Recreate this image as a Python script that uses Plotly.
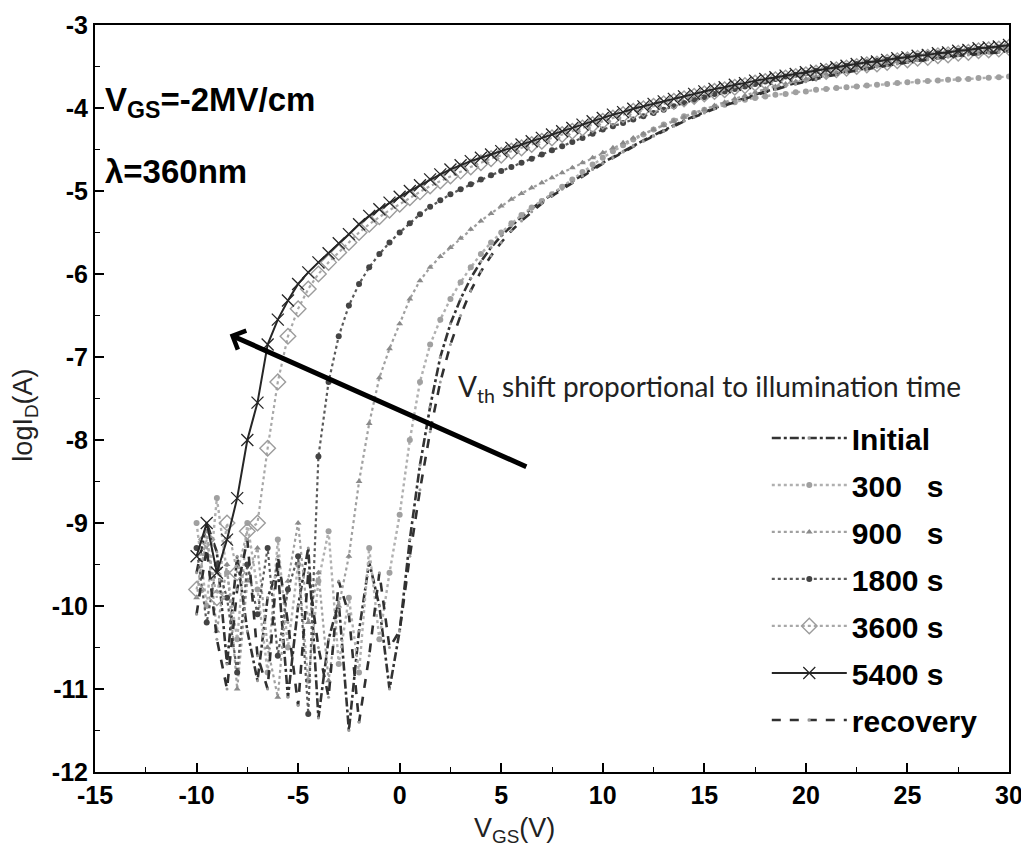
import plotly.graph_objects as go

VGS = [-10.0, -9.5, -9.0, -8.5, -8.0, -7.5, -7.0, -6.5, -6.0, -5.5,
       -5.0, -4.5, -4.0, -3.5, -3.0, -2.5, -2.0, -1.5, -1.0, -0.5,
       0.0, 0.5, 1.0, 1.5, 2.0, 2.5, 3.0, 3.5, 4.0, 4.5,
       5.0, 5.5, 6.0, 6.5, 7.0, 7.5, 8.0, 8.5, 9.0, 9.5,
       10.0, 10.5, 11.0, 11.5, 12.0, 12.5, 13.0, 13.5, 14.0, 14.5,
       15.0, 15.5, 16.0, 16.5, 17.0, 17.5, 18.0, 18.5, 19.0, 19.5,
       20.0, 20.5, 21.0, 21.5, 22.0, 22.5, 23.0, 23.5, 24.0, 24.5,
       25.0, 25.5, 26.0, 26.5, 27.0, 27.5, 28.0, 28.5, 29.0, 29.5,
       30.0]

initial = [-9.6, -9.0, -9.35, -10.7, -9.4, -10.3, -10.9, -9.9, -9.56, -11.1,
           -10.0, -9.3, -11.35, -10.4, -9.95, -11.5, -10.3, -9.47, -10.0, -11.0,
           -10.3, -9.2, -8.3, -7.6, -7.0, -6.6, -6.3, -6.05, -5.85, -5.68,
           -5.54, -5.42, -5.31, -5.21, -5.12, -5.04, -4.96, -4.88, -4.8, -4.73,
           -4.66, -4.59, -4.52, -4.45, -4.39, -4.33, -4.27, -4.21, -4.15, -4.1,
           -4.05, -4.0, -3.96, -3.92, -3.88, -3.84, -3.8, -3.77, -3.73, -3.7,
           -3.67, -3.64, -3.61, -3.59, -3.56, -3.54, -3.52, -3.5, -3.48, -3.46,
           -3.44, -3.42, -3.41, -3.39, -3.38, -3.36, -3.35, -3.34, -3.33, -3.32,
           -3.31]

s300 = [-9.0, -10.0, -8.7, -9.6, -10.4, -9.0, -9.8, -10.8, -9.2, -10.5,
        -9.5, -10.9, -9.7, -9.1, -10.7, -9.9, -10.8, -9.3, -10.4, -9.6,
        -8.9, -8.0, -7.3, -6.85, -6.55, -6.3, -6.1, -5.92, -5.76, -5.62,
        -5.5, -5.39, -5.29, -5.2, -5.12, -5.04, -4.95, -4.86, -4.77, -4.68,
        -4.6, -4.52, -4.45, -4.38, -4.32, -4.26, -4.2, -4.15, -4.1, -4.06,
        -4.02, -3.99, -3.96, -3.93, -3.9, -3.88, -3.86, -3.84, -3.83, -3.81,
        -3.8, -3.78, -3.77, -3.76, -3.75, -3.74, -3.73, -3.72, -3.71, -3.7,
        -3.69, -3.68, -3.675, -3.67, -3.66, -3.655, -3.65, -3.64, -3.635, -3.63,
        -3.62]

s900 = [-9.9, -9.1, -10.3, -9.5, -11.0, -9.7, -9.3, -10.5, -11.1, -9.7,
        -9.0, -10.2, -9.6, -10.9, -10.0, -9.4, -8.5, -7.8, -7.25, -6.9,
        -6.6, -6.3, -6.08, -5.92, -5.79, -5.68, -5.57, -5.46, -5.36, -5.27,
        -5.18, -5.1, -5.03, -4.96, -4.9, -4.84, -4.78, -4.72, -4.66, -4.6,
        -4.54, -4.48, -4.42, -4.36, -4.31, -4.26, -4.21, -4.16, -4.11, -4.06,
        -4.02, -3.97, -3.93, -3.89, -3.85, -3.81, -3.77, -3.74, -3.71, -3.68,
        -3.65, -3.62, -3.59, -3.57, -3.54, -3.52, -3.5, -3.48, -3.46, -3.44,
        -3.42, -3.4, -3.38, -3.37, -3.35, -3.34, -3.32, -3.31, -3.3, -3.29,
        -3.28]

s1800 = [-9.3, -10.2, -9.5, -9.9, -10.8, -9.5, -10.1, -9.3, -10.6, -9.8,
         -9.4, -11.3, -8.2, -7.3, -6.75, -6.38, -6.12, -5.92, -5.76, -5.62,
         -5.5, -5.39, -5.28, -5.19, -5.11, -5.04, -4.98, -4.92, -4.86, -4.81,
         -4.76, -4.71, -4.66, -4.61, -4.56, -4.51, -4.46, -4.41, -4.36, -4.31,
         -4.26, -4.22, -4.18, -4.14, -4.1, -4.06, -4.02, -3.98, -3.94, -3.9,
         -3.87, -3.83, -3.8, -3.77, -3.74, -3.71, -3.68, -3.65, -3.62, -3.6,
         -3.58, -3.55, -3.53, -3.51, -3.49, -3.47, -3.45, -3.43, -3.42, -3.4,
         -3.38, -3.37, -3.35, -3.34, -3.33, -3.31, -3.3, -3.29, -3.28, -3.27,
         -3.26]

s3600 = [-9.8, -9.2, -9.9, -9.0, -9.6, -9.1, -9.0, -8.1, -7.3, -6.75,
         -6.42, -6.18, -6.0, -5.86, -5.74, -5.62, -5.5, -5.4, -5.31, -5.23,
         -5.16, -5.08, -5.01, -4.94, -4.88, -4.82, -4.76, -4.71, -4.66, -4.61,
         -4.57, -4.52, -4.48, -4.44, -4.4, -4.36, -4.32, -4.28, -4.24, -4.2,
         -4.16, -4.12, -4.08, -4.04, -4.01, -3.98, -3.95, -3.92, -3.89, -3.86,
         -3.83, -3.8, -3.78, -3.75, -3.73, -3.7, -3.68, -3.66, -3.64, -3.62,
         -3.6, -3.58, -3.56, -3.54, -3.52, -3.5, -3.48, -3.47, -3.45, -3.43,
         -3.42, -3.4, -3.39, -3.37, -3.36, -3.34, -3.33, -3.31, -3.3, -3.29,
         -3.27]

s5400 = [-9.4, -9.0, -9.6, -9.2, -8.7, -8.0, -7.55, -6.85, -6.55, -6.32,
         -6.12, -5.98, -5.86, -5.75, -5.63, -5.52, -5.4, -5.3, -5.22, -5.14,
         -5.07, -5.0, -4.93, -4.86, -4.8, -4.74, -4.69, -4.64, -4.6, -4.56,
         -4.52, -4.48, -4.44, -4.4, -4.36, -4.32, -4.28, -4.24, -4.2, -4.16,
         -4.12, -4.08, -4.05, -4.01, -3.98, -3.95, -3.92, -3.89, -3.86, -3.83,
         -3.8, -3.77, -3.75, -3.72, -3.7, -3.67, -3.65, -3.63, -3.61, -3.59,
         -3.57, -3.55, -3.53, -3.51, -3.49, -3.47, -3.45, -3.44, -3.42, -3.4,
         -3.39, -3.37, -3.36, -3.34, -3.33, -3.31, -3.3, -3.28, -3.27, -3.26,
         -3.24]

recovery = [-10.1, -9.3, -10.4, -11.0, -9.8, -9.2, -10.6, -11.0, -9.4, -10.2,
            -11.2, -9.6, -10.5, -11.1, -9.7, -10.1, -11.4, -10.6, -9.6, -10.5,
            -10.3, -9.4, -8.6, -7.9, -7.3, -6.85, -6.5, -6.2, -5.97, -5.78,
            -5.62, -5.48, -5.36, -5.25, -5.15, -5.06, -4.98, -4.9, -4.82, -4.74,
            -4.67, -4.6, -4.53, -4.46, -4.4, -4.34, -4.28, -4.22, -4.16, -4.11,
            -4.06, -4.01, -3.97, -3.93, -3.89, -3.85, -3.81, -3.78, -3.74, -3.71,
            -3.68, -3.65, -3.62, -3.6, -3.57, -3.55, -3.53, -3.51, -3.49, -3.47,
            -3.45, -3.43, -3.42, -3.4, -3.39, -3.37, -3.36, -3.35, -3.34, -3.33,
            -3.32]

X_TICKS = [-15, -10, -5, 0, 5, 10, 15, 20, 25, 30]
X_TICK_TEXT = ["-15", "-10", "-5", "0", "5", "10", "15", "20", "25", "30"]
Y_TICKS = [-12, -11, -10, -9, -8, -7, -6, -5, -4, -3]
Y_TICK_TEXT = ["-12", "-11", "-10", "-9", "-8", "-7", "-6", "-5", "-4", "-3"]

NBSP = "\u00a0"
series_names = ["Initial", "300" + NBSP * 3 + "s", "900" + NBSP * 3 + "s",
                "1800 s", "3600 s", "5400 s", "recovery"]
series_values = [initial, s300, s900, s1800, s3600, s5400, recovery]

styles = [
    dict(line=dict(color="#333333", width=2.6, dash="dashdot"),
         marker=dict(symbol="circle", size=3, color="#9a9a9a")),
    dict(line=dict(color="#b0b0b0", width=2.4, dash="dot"),
         marker=dict(symbol="circle", size=6, color="#a0a0a0")),
    dict(line=dict(color="#a0a0a0", width=2.2, dash="dot"),
         marker=dict(symbol="triangle-up", size=6, color="#8a8a8a")),
    dict(line=dict(color="#5a5a5a", width=2.2, dash="dot"),
         marker=dict(symbol="circle", size=6, color="#444444")),
    dict(line=dict(color="#a8a8a8", width=2.2, dash="dot"),
         marker=dict(symbol="diamond-open", size=12, color="#9c9c9c",
                     line=dict(width=1.4, color="#9c9c9c"))),
    dict(line=dict(color="#262626", width=2, dash="solid"),
         marker=dict(symbol="x-thin-open", size=12, color="#262626",
                     line=dict(width=1.3, color="#262626"))),
    dict(line=dict(color="#303030", width=2.6, dash="dash"),
         marker=dict(symbol="circle", size=3, color="#9a9a9a")),
]

fig = go.Figure()
for i, (name, vals, st) in enumerate(zip(series_names, series_values, styles)):
    fig.add_trace(go.Scatter(x=VGS, y=vals, name=name, mode="lines+markers",
                             line=st["line"], marker=st["marker"],
                             legendgroup=f"g{i}"))

TICK_FONT = dict(family="Liberation Sans, Arial", size=25, color="black", weight="bold")

# page body has an 8px default margin: size/margins compensate so the plot
# area lands at the same screen position as the reference
fig.update_layout(
    width=1021, height=852,
    paper_bgcolor="white", plot_bgcolor="white",
    margin=dict(l=87, r=20, t=17, b=88),
    showlegend=True,
    legend=dict(x=0.735, y=0.482, xanchor="left", yanchor="top",
                bgcolor="rgba(0,0,0,0)", borderwidth=0,
                font=dict(family="Liberation Sans, Arial", size=30,
                          color="black", weight="bold"),
                itemwidth=75, tracegroupgap=5, traceorder="grouped"),
    xaxis=dict(range=[-15, 30], tickvals=X_TICKS, ticktext=X_TICK_TEXT, automargin=False,
               ticks="inside", ticklen=9, tickwidth=1.5, tickcolor="black",
               minor=dict(dtick=2.5, ticks="inside", ticklen=5, tickcolor="black", tickwidth=1.2),
               showline=True, linecolor="black", linewidth=2, mirror=True,
               showgrid=False, zeroline=False, tickfont=TICK_FONT),
    yaxis=dict(range=[-12, -3], tickvals=Y_TICKS, ticktext=Y_TICK_TEXT, automargin=False,
               ticks="inside", ticklen=9, tickwidth=1.5, tickcolor="black",
               minor=dict(dtick=0.5, ticks="inside", ticklen=5, tickcolor="black", tickwidth=1.2),
               showline=True, linecolor="black", linewidth=2, mirror=True,
               showgrid=False, zeroline=False, tickfont=TICK_FONT),
)

fig.add_annotation(x=-14.6, y=-3.93, xref="x", yref="y", xanchor="left", yanchor="middle",
                   text="V<sub>GS</sub>=-2MV/cm", showarrow=False,
                   font=dict(family="Liberation Sans, Arial", size=33, color="black", weight="bold"))
fig.add_annotation(x=-14.6, y=-4.77, xref="x", yref="y", xanchor="left", yanchor="middle",
                   text="λ=360nm", showarrow=False,
                   font=dict(family="Liberation Sans, Arial", size=33, color="black", weight="bold"))
fig.add_annotation(x=2.75, y=-7.37, xref="x", yref="y", xanchor="left", yanchor="middle",
                   text="V<sub>th</sub> shift proportional to illumination time", showarrow=False,
                   font=dict(family="Lato, Open Sans, sans-serif", size=28, color="#222222"))
# arrow
fig.add_annotation(x=-8.37, y=-6.73, ax=6.31, ay=-8.33, xref="x", yref="y",
                   axref="x", ayref="y", text="", showarrow=True,
                   arrowhead=4, arrowsize=0.8, arrowwidth=5, arrowcolor="black", standoff=0)
# axis titles
fig.add_annotation(x=5.67, y=-0.078, xref="x", yref="paper", xanchor="center", yanchor="middle",
                   text="V<sub>GS</sub>(V)", showarrow=False,
                   font=dict(family="Liberation Sans, Arial", size=27, color="#222222"))
fig.add_annotation(x=-0.076, y=-7.7, xref="paper", yref="y", xanchor="center", yanchor="middle",
                   text="logI<sub>D</sub>(A)", textangle=-90, showarrow=False,
                   font=dict(family="Liberation Sans, Arial", size=27, color="#222222"))

fig.write_html("out.html")
